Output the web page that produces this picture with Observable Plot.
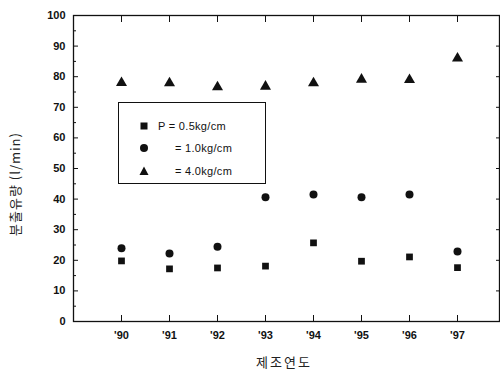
<!DOCTYPE html>
<html>
<head>
<meta charset="utf-8">
<script src="https://cdn.jsdelivr.net/npm/d3@7"></script>
<script src="https://cdn.jsdelivr.net/npm/@observablehq/plot@0.6"></script>
<style>
  html, body { margin: 0; padding: 0; background: #fff; }
  #wrap { position: relative; width: 500px; height: 372px; overflow: hidden; }
  #legend { position: absolute; left: 118px; top: 102px; width: 148px; height: 82px;
    border: 1.3px solid #111; box-sizing: border-box; font-family: "Liberation Sans", Arial, sans-serif;
    font-size: 11px; color: #111; letter-spacing: 0.3px; }
  .item { position: absolute; left: 0; height: 14px; display: flex; align-items: center; }
  .item svg { position: absolute; left: 18px; }
  .item span { position: absolute; white-space: nowrap; }
  #xlabel { position: absolute; left: 256px; top: 352px; font-family: "Noto Sans CJK KR", sans-serif;
    font-size: 13px; letter-spacing: 2px; color: #222; }
  #ylabel { position: absolute; left: 14px; top: 184px; transform: translate(-50%, -50%) rotate(-90deg);
    font-family: "Noto Sans CJK KR", "Liberation Sans", sans-serif; font-size: 13px; white-space: nowrap; color: #222; letter-spacing: 1px; }
</style>
</head>
<body>
<div id="wrap"></div>
<script>
const years = [90, 91, 92, 93, 94, 95, 96, 97];
const p05 = [19.8, 17.2, 17.5, 18.1, 25.7, 19.7, 21.1, 17.6];
const p10 = [23.9, 22.2, 24.4, 40.6, 41.5, 40.6, 41.5, 22.9];
const p40 = [78.0, 77.9, 76.6, 76.8, 77.9, 79.1, 79.0, 86.0];
const yTicks = [0, 10, 20, 30, 40, 50, 60, 70, 80, 90, 100];
const yMinor = [5, 15, 25, 35, 45, 55, 65, 75, 85, 95];
const seriesLabels = ["P = 0.5kg/cm", "= 1.0kg/cm", "= 4.0kg/cm"];
const xLabel = "제조연도";
const yLabel = "분출유량 (l/min)";

const rows = (vals) => years.map((yr, i) => ({year: yr, value: vals[i]}));

const font = "Liberation Sans, Arial, sans-serif";

const chart = Plot.plot({
  width: 500,
  height: 372,
  marginLeft: 73,
  marginRight: 1,
  marginTop: 15,
  marginBottom: 51,
  style: {fontFamily: font, fontSize: "11px", fontWeight: "bold", color: "#111", background: "white"},
  x: {domain: [89, 97.875], label: null},
  y: {domain: [0, 100], label: null},
  marks: [
    Plot.frame({stroke: "#111", strokeWidth: 1.3}),
    Plot.axisX({ticks: years, tickSize: 0, tickPadding: 10, tickFormat: d => "'" + d, label: null}),
    Plot.axisX({ticks: years, anchor: "bottom", tickSize: -6, tickFormat: () => "", label: null}),
    Plot.axisX({ticks: years, anchor: "top", tickSize: -6, tickFormat: () => "", label: null}),
    Plot.axisY({ticks: yTicks, tickSize: 0, tickPadding: 8, label: null}),
    Plot.axisY({ticks: yTicks, anchor: "left", tickSize: -5, tickFormat: () => "", label: null}),
    Plot.axisY({ticks: yMinor, anchor: "left", tickSize: -3, tickFormat: () => "", label: null}),
    Plot.axisY({ticks: yTicks, anchor: "right", tickSize: -4, tickFormat: () => "", label: null}),
    Plot.dot(rows(p05), {x: "year", y: "value", symbol: "square", r: 3.8, fill: "#111", stroke: "none"}),
    Plot.dot(rows(p10), {x: "year", y: "value", symbol: "circle", r: 4, fill: "#111", stroke: "none"}),
    Plot.dot(rows(p40), {x: "year", y: "value", symbol: "triangle", r: 4.1, fill: "#111", stroke: "none"})
  ]
});

const wrap = document.getElementById("wrap");
wrap.appendChild(chart);

const legend = document.createElement("div");
legend.id = "legend";
const symbols = [
  '<rect x="3.5" y="3.5" width="7" height="7" fill="#111"/>',
  '<circle cx="7" cy="7" r="4" fill="#111"/>',
  '<path d="M7,2.5 L11.5,11 L2.5,11 Z" fill="#111"/>'
];
const tops = [16, 38, 61];
const lefts = [39, 56, 56];
seriesLabels.forEach((lab, i) => {
  const it = document.createElement("div");
  it.className = "item";
  it.style.top = tops[i] + "px";
  it.innerHTML = `<svg width="14" height="14">${symbols[i]}</svg><span style="left:${lefts[i]}px">${lab}</span>`;
  legend.appendChild(it);
});
wrap.appendChild(legend);

const xl = document.createElement("div");
xl.id = "xlabel"; xl.textContent = xLabel;
wrap.appendChild(xl);
const yl = document.createElement("div");
yl.id = "ylabel"; yl.textContent = yLabel;
wrap.appendChild(yl);
</script>
</body>
</html>
